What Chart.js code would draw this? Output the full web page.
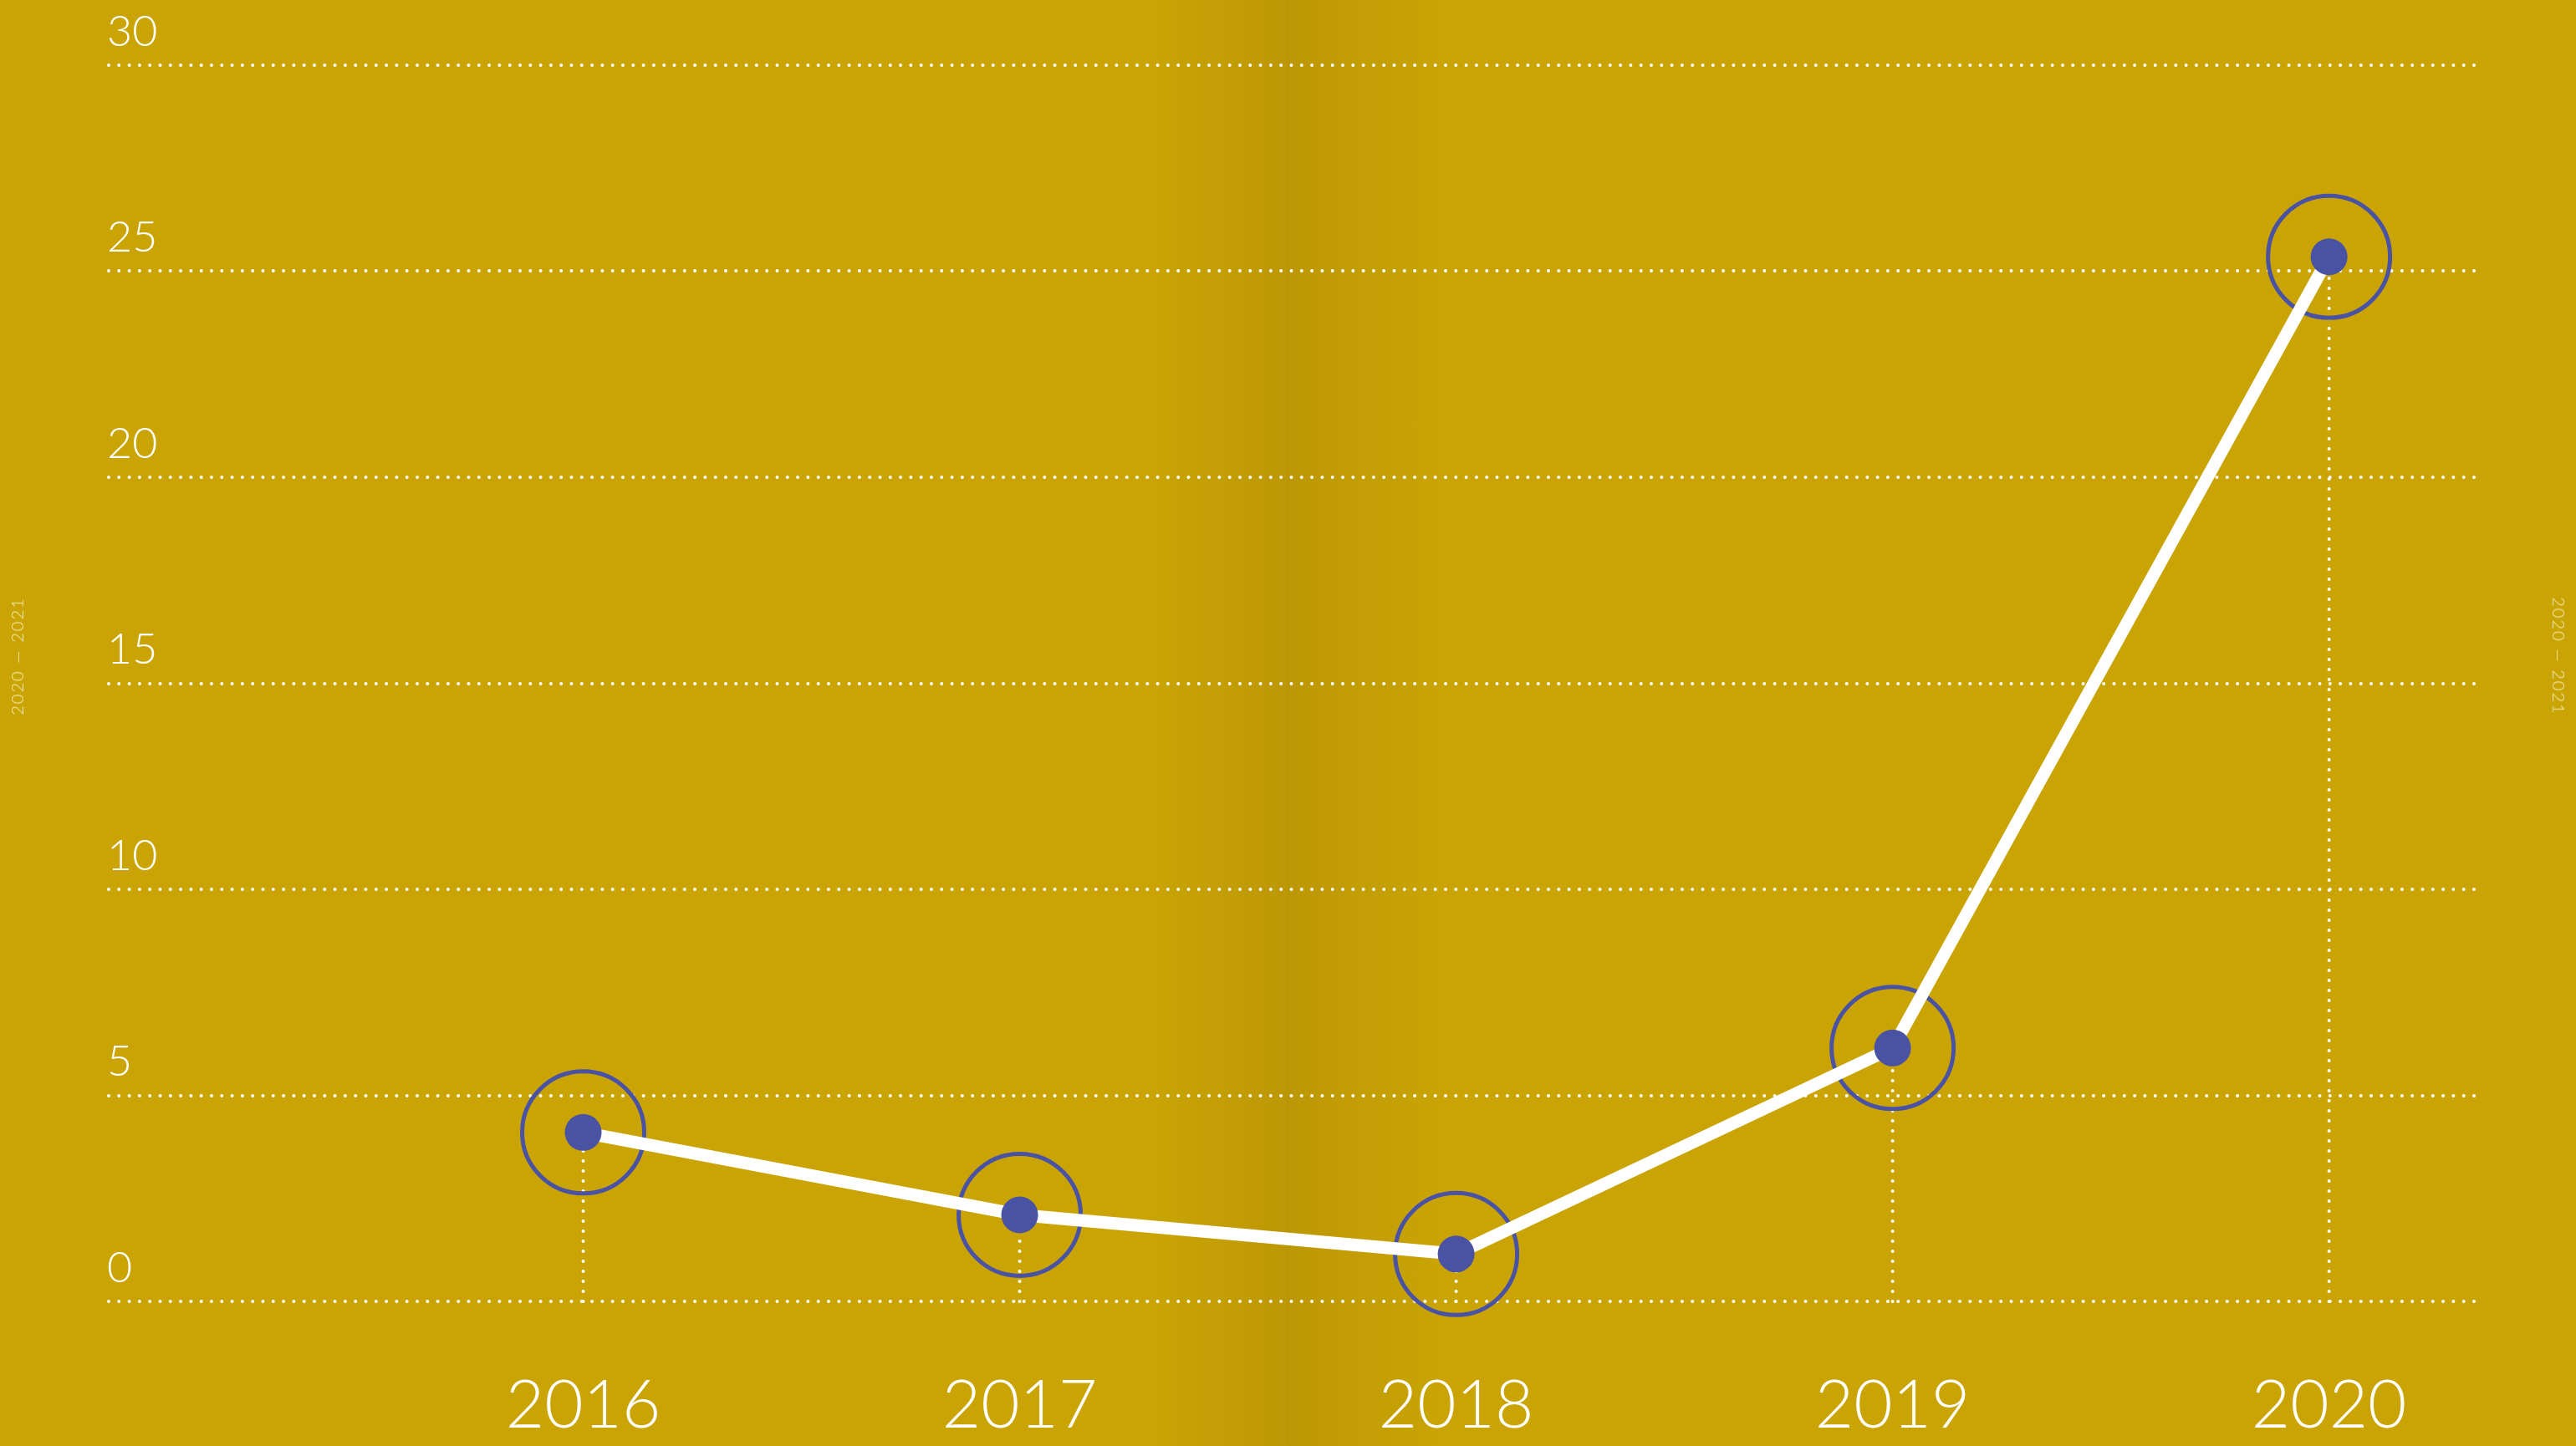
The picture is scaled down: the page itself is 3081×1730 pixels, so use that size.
<!DOCTYPE html>
<html>
<head>
<meta charset="utf-8">
<script src="https://cdn.jsdelivr.net/npm/chart.js@4"></script>
<style>
  html, body { margin: 0; padding: 0; overflow: hidden; }
  body {
    width: 3081px; height: 1730px; position: relative;
    background: linear-gradient(to right, #c9a404 0px, #c9a404 1380px, #bd9806 1538px, #b99506 1541px, #bd9806 1545px, #c9a404 1720px, #c9a404 3081px);
  }
  #wrap { position: absolute; left: 0; top: 0; width: 3081px; height: 1730px; }
  .side {
    position: absolute; font-family: Lato, sans-serif; font-weight: 300;
    font-size: 20px; color: rgba(255, 244, 200, 0.9); white-space: nowrap; letter-spacing: 2px;
  }
  #sideL { left: 20px; top: 785px; transform: translate(-50%, -50%) rotate(-90deg); }
  #sideR { left: 3061px; top: 785px; transform: translate(-50%, -50%) rotate(90deg); }
</style>
</head>
<body>
<div id="wrap"><canvas id="lineChart"></canvas></div>
<div class="side" id="sideL">2020 — 2021</div>
<div class="side" id="sideR">2020 — 2021</div>
<script>
var years = [2016, 2017, 2018, 2019, 2020];
var values = [4.1, 2.1, 1.15, 6.15, 25.35];
var yTicks = [0, 5, 10, 15, 20, 25, 30];

var points = years.map(function (y, i) { return { x: y, y: values[i] }; });

var blue = '#4a52a3';

// dotted grid + drop lines with round dots
var dotLines = {
  id: 'dotLines',
  beforeDatasetsDraw: function (chart) {
    var ctx = chart.ctx, area = chart.chartArea, ys = chart.scales.y;
    ctx.save();
    ctx.strokeStyle = '#ffffff';
    ctx.lineWidth = 4;
    ctx.lineCap = 'round';
    ctx.setLineDash([0, 12.3]);
    yTicks.forEach(function (t) {
      var py = Math.round(ys.getPixelForValue(t));
      ctx.beginPath();
      ctx.moveTo(area.left + 2, py);
      ctx.lineTo(area.right, py);
      ctx.stroke();
    });
    ctx.setLineDash([0, 12]);
    chart.getDatasetMeta(0).data.forEach(function (p) {
      ctx.beginPath();
      ctx.moveTo(p.x, area.bottom);
      ctx.lineTo(p.x, p.y);
      ctx.stroke();
    });
    ctx.restore();
  }
};

var data = {
  datasets: [{
    label: 'line',
    data: points,
    borderColor: '#ffffff',
    borderWidth: 15,
    tension: 0,
    pointRadius: 22,
    pointBackgroundColor: blue,
    pointBorderWidth: 0,
    clip: false
  }, {
    label: 'rings',
    data: points,
    showLine: false,
    pointRadius: 73,
    pointBackgroundColor: 'rgba(0,0,0,0)',
    pointBorderColor: blue,
    pointBorderWidth: 5,
    clip: false
  }]
};

var config = {
  type: 'line',
  data: data,
  plugins: [dotLines],
  options: {
    responsive: true,
    maintainAspectRatio: false,
    animation: false,
    events: [],
    layout: { padding: { left: 128, right: 121, top: 76, bottom: -77 } },
    plugins: { legend: { display: false }, tooltip: { enabled: false } },
    scales: {
      x: {
        type: 'linear',
        min: 2014.909,
        max: 2020.334,
        afterBuildTicks: function (axis) {
          axis.ticks = years.map(function (v) { return { value: v }; });
        },
        grid: { display: false, drawTicks: false },
        border: { display: false },
        ticks: {
          color: '#ffffff',
          padding: 77,
          maxRotation: 0,
          autoSkip: false,
          font: { family: 'Lato', weight: 300, size: 80 },
          callback: function (v) { return String(v); }
        }
      },
      y: {
        min: 0,
        max: 30,
        afterBuildTicks: function (axis) {
          axis.ticks = yTicks.map(function (v) { return { value: v }; });
        },
        grid: { display: false, drawTicks: false },
        border: { display: false },
        ticks: {
          color: '#ffffff',
          mirror: true,
          padding: 0,
          labelOffset: -40,
          font: { family: 'Lato', weight: 300, size: 52 }
        }
      }
    }
  }
};

var lineChart = new Chart(document.getElementById('lineChart'), config);
</script>
</body>
</html>
